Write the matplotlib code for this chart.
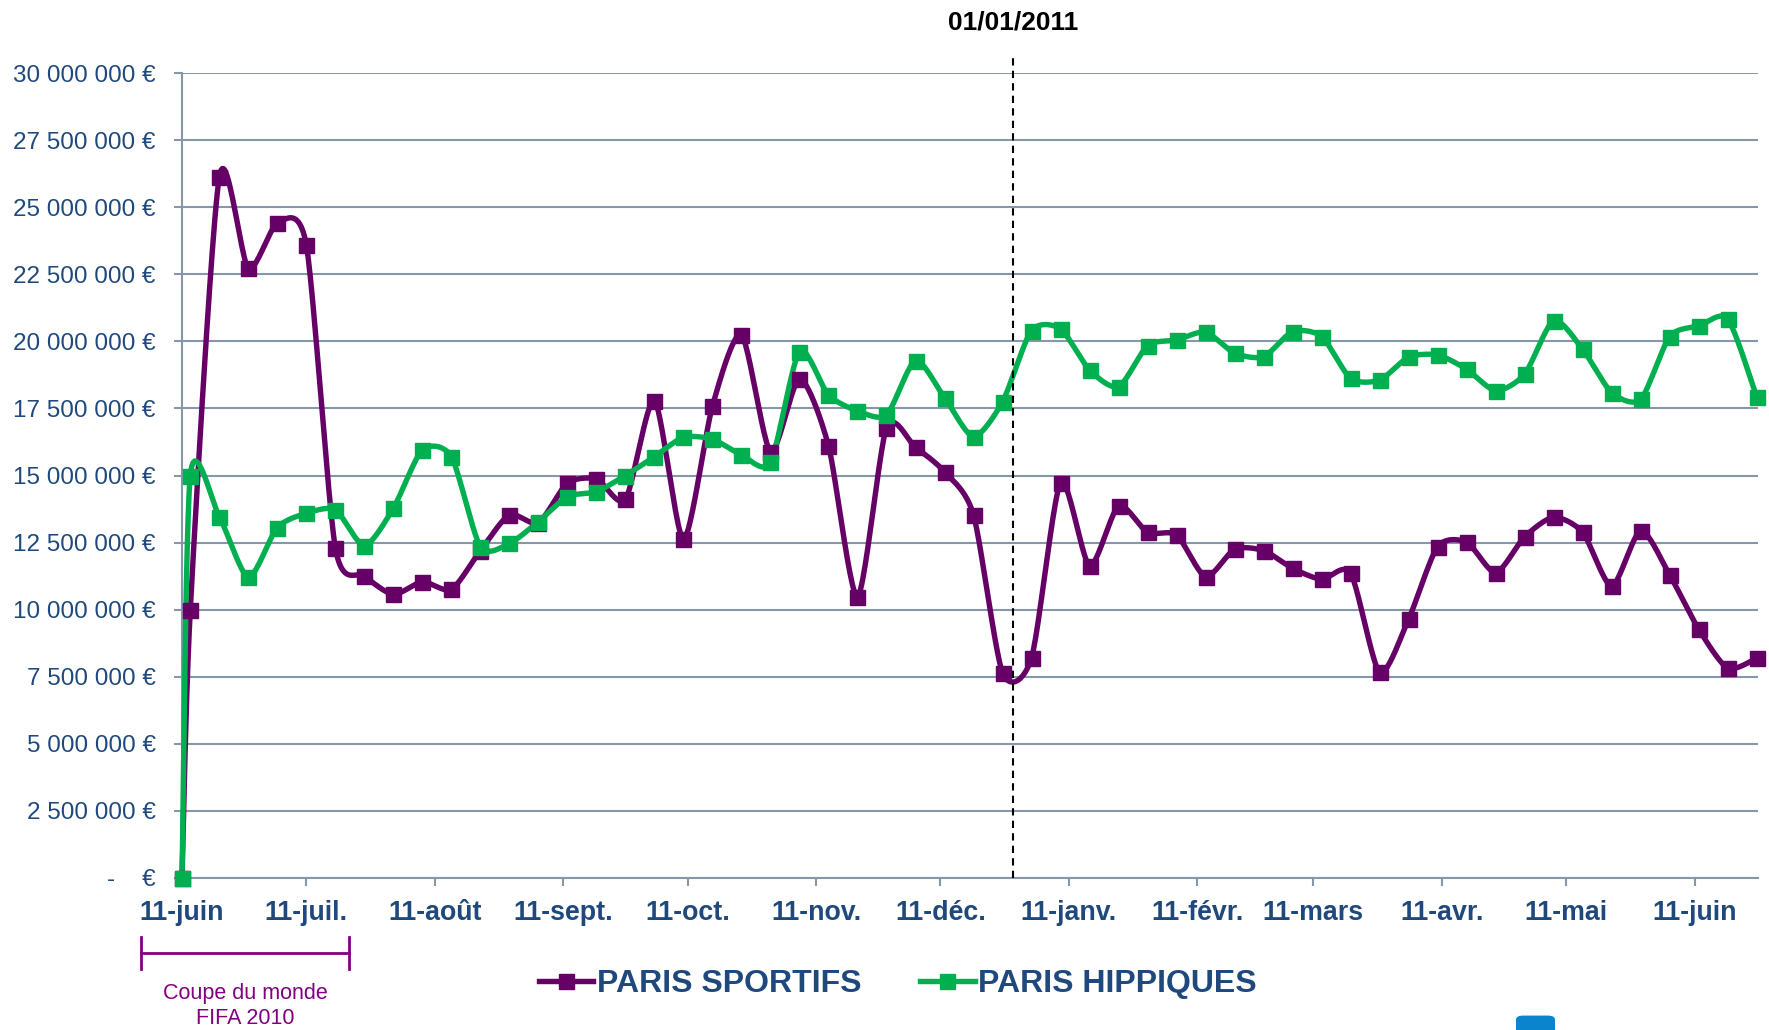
import numpy as np
import pandas as pd
import matplotlib
matplotlib.use("Agg")
import matplotlib.pyplot as plt
import matplotlib.dates as mdates
import matplotlib.transforms as mtransforms
from matplotlib.lines import Line2D
from matplotlib.patches import FancyBboxPatch

plt.rcParams['font.family'] = ['Liberation Sans', 'DejaVu Sans']

# Mises hebdomadaires (en millions d'euros)
dates = [pd.Timestamp("2010-06-11")] + list(pd.date_range("2010-06-13", periods=55, freq="7D"))

paris_sportifs = [0.0,
    9.99, 26.12, 22.72, 24.40, 23.59, 12.31, 11.26, 10.57, 11.04, 10.76,
    12.20, 13.53, 13.24, 14.71, 14.87, 14.11, 17.79, 12.63, 17.59, 20.24,
    15.89, 18.60, 16.11, 10.49, 16.78, 16.05, 15.14, 13.53, 7.65, 8.21,
    14.73, 11.64, 13.86, 12.88, 12.78, 11.23, 12.25, 12.20, 11.54, 11.13,
    11.36, 7.67, 9.65, 12.35, 12.51, 11.38, 12.72, 13.44, 12.88, 10.88,
    12.94, 11.29, 9.27, 7.82, 8.19]

paris_hippiques = [0.0,
    15.00, 13.47, 11.21, 13.06, 13.59, 13.72, 12.39, 13.78, 15.95, 15.70,
    12.35, 12.47, 13.28, 14.21, 14.40, 15.00, 15.70, 16.42, 16.35, 15.77,
    15.49, 19.62, 18.00, 17.41, 17.26, 19.28, 17.90, 16.45, 17.75, 20.40,
    20.46, 18.93, 18.31, 19.84, 20.05, 20.34, 19.56, 19.43, 20.36, 20.18,
    18.62, 18.56, 19.41, 19.49, 18.96, 18.16, 18.78, 20.77, 19.70, 18.09,
    17.84, 20.18, 20.57, 20.83, 17.92]

mois_ticks = ["2010-06-11", "2010-07-11", "2010-08-11", "2010-09-11", "2010-10-11",
              "2010-11-11", "2010-12-11", "2011-01-11", "2011-02-11", "2011-03-11",
              "2011-04-11", "2011-05-11", "2011-06-11"]
mois_labels = ["11-juin", "11-juil.", "11-août", "11-sept.", "11-oct.", "11-nov.",
               "11-déc.", "11-janv.", "11-févr.", "11-mars", "11-avr.", "11-mai", "11-juin"]

y_ticks = [0, 2.5, 5, 7.5, 10, 12.5, 15, 17.5, 20, 22.5, 25, 27.5, 30]
y_labels = ["-    €", "2 500 000 €", "5 000 000 €", "7 500 000 €", "10 000 000 €",
            "12 500 000 €", "15 000 000 €", "17 500 000 €", "20 000 000 €",
            "22 500 000 €", "25 000 000 €", "27 500 000 €", "30 000 000 €"]

date_reperes = pd.Timestamp("2010-12-28 12:00")

violet = "#660066"
vert = "#00B050"
bleu_txt = "#1F497D"
gris = "#8896AA"


def lisser(x, y, n=24, k=0.75):
    # courbe lissée façon Excel (Bezier type Catmull-Rom, tension réduite)
    pts = np.column_stack([x, y])
    P = np.vstack([pts[0], pts, pts[-1]])
    t = np.linspace(0, 1, n, endpoint=False)[:, None]
    out = []
    for i in range(1, len(P) - 2):
        p0, p1, p2, p3 = P[i - 1], P[i], P[i + 1], P[i + 2]
        c1 = p1 + k * (p2 - p0) / 6
        c2 = p2 - k * (p3 - p1) / 6
        seg = ((1 - t) ** 3) * p1 + 3 * ((1 - t) ** 2) * t * c1 + 3 * (1 - t) * t ** 2 * c2 + t ** 3 * p2
        out.append(seg)
    out.append(pts[-1][None])
    s = np.vstack(out)
    return s[:, 0], s[:, 1]


x = mdates.date2num(dates)

fig = plt.figure(figsize=(17.69, 10.30), dpi=100)
ax = fig.add_axes([182 / 1769, 1 - 878 / 1030, (1758 - 182) / 1769, (878 - 73) / 1030])

for serie, couleur in [(paris_sportifs, violet), (paris_hippiques, vert)]:
    xs, ys = lisser(x, serie)
    ax.plot(xs, ys, color=couleur, lw=3.9, zorder=3, clip_on=False, solid_capstyle='round')
    ax.plot(x, serie, ls='none', marker='s', ms=10.8, color=couleur, zorder=4, clip_on=False)

handles = [Line2D([], [], color=violet, lw=3.9, marker='s', ms=10.8),
           Line2D([], [], color=vert, lw=3.9, marker='s', ms=10.8)]
leg = ax.legend(handles, ["PARIS SPORTIFS", "PARIS HIPPIQUES"], loc='center',
                bbox_to_anchor=(0.5075, 0.0447), bbox_transform=fig.transFigure,
                ncol=2, frameon=False, handlelength=1.7, handletextpad=0.12,
                columnspacing=1.85, prop={'size': 23, 'weight': 'bold'})
for t in leg.get_texts():
    t.set_color(bleu_txt)

# repère 01/01/2011
xr = mdates.date2num(date_reperes)
ax.plot([xr, xr], [0, 30.65], color='black', lw=1.5, ls=(0, (3.5, 2.5)), zorder=5, clip_on=False)
ax.text(xr, 1 - 22.5 / 1030, "01/01/2011",
        transform=mtransforms.blended_transform_factory(ax.transData, fig.transFigure),
        ha='center', va='center', fontsize=19, fontweight='bold', color='black')

ax.set_xlim(x[0], x[-1] + 0.3)
ax.set_ylim(0, 30)
ax.set_xticks(mdates.date2num([pd.Timestamp(d) for d in mois_ticks]))
ax.set_xticklabels(mois_labels, fontsize=19.3, fontweight='bold', color=bleu_txt)
ax.set_yticks(y_ticks)
ax.set_yticklabels(y_labels, fontsize=17.5, color=bleu_txt)
ax.tick_params(axis='x', length=6, width=1.5, color=gris, pad=9.5, direction='out')
ax.tick_params(axis='y', length=6, width=1.5, color=gris, pad=13, direction='out')
ax.grid(axis='y', color=gris, lw=1.5)
ax.set_axisbelow(True)
for s in ['top', 'right']:
    ax.spines[s].set_visible(False)
for s in ['left', 'bottom']:
    ax.spines[s].set_color(gris)
    ax.spines[s].set_linewidth(1.5)

# Coupe du monde
x0, x1 = 141 / 1769, 349 / 1769
yb = 1 - 953 / 1030
fig.add_artist(Line2D([x0, x1], [yb, yb], color="#800080", lw=2))
for xx in (x0, x1):
    fig.add_artist(Line2D([xx, xx], [1 - 937 / 1030, 1 - 969 / 1030], color="#800080", lw=2))
fig.text(245.7 / 1769, 1 - 993 / 1030, "Coupe du monde", ha='center', va='center',
         fontsize=15.5, color="#800080")
fig.text(245.7 / 1769, 1 - 1018 / 1030, "FIFA 2010", ha='center', va='center',
         fontsize=15.5, color="#800080")

# petit élément bleu coupé en bas
fig.add_artist(FancyBboxPatch((1516 / 1769, -0.01), 39 / 1769, 0.024,
                              boxstyle="round,pad=0,rounding_size=0.004",
                              transform=fig.transFigure, color="#0A84CC", lw=0))

fig.savefig("out.png", dpi=100)
